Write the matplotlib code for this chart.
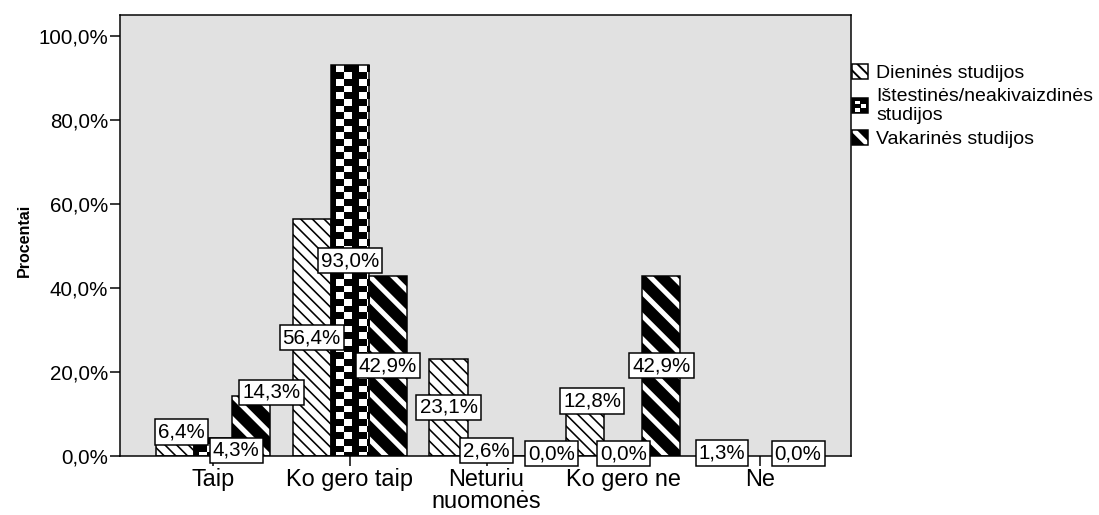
import numpy as np
import matplotlib.pyplot as plt
from matplotlib.patches import Rectangle

plt.rcParams['font.family'] = ['Liberation Sans', 'DejaVu Sans']

# data
categories = ['Taip', 'Ko gero taip', 'Neturiu\nnuomonės', 'Ko gero ne', 'Ne']
series = ['Dieninės studijos', 'Ištestinės/neakivaizdinės\nstudijos', 'Vakarinės studijos']
dieni = [6.4, 56.4, 23.1, 12.8, 1.3]
istest = [4.3, 93.0, 2.6, 0.0, np.nan]
vakar = [14.3, 42.9, 0.0, 42.9, 0.0]
y_ticks = [0, 20, 40, 60, 80, 100]

DPI = 140


def pt(px):
    # pixels -> points at this dpi
    return px * 72 / DPI


fig = plt.figure(figsize=(1099 / DPI, 515 / DPI), dpi=DPI)
ax = fig.add_axes([120 / 1099, 1 - 456 / 515, 731 / 1099, 441 / 515])
ax.set_facecolor('#e1e1e1')

x = np.arange(len(categories))
w = 0.278
xlim = (-0.68, 4.665)
ylim = (0, 105)
ax.set_xlim(xlim)
ax.set_ylim(ylim)
lw = pt(1.5)

b_d = ax.bar(x - w, dieni, w, facecolor='white', edgecolor='black',
             hatch='\\\\\\\\', linewidth=lw, zorder=2)
b_i = ax.bar(x, istest, w, facecolor='black', edgecolor='black', linewidth=0, zorder=2)
b_v = ax.bar(x + w, vakar, w, facecolor='black', edgecolor='white',
             hatch='\\\\', linewidth=0, zorder=2)
for p in b_d:
    if hasattr(p, 'set_hatch_linewidth'):
        p.set_hatch_linewidth(pt(1.6))
for p in b_v:
    if hasattr(p, 'set_hatch_linewidth'):
        p.set_hatch_linewidth(pt(5))

# checker texture for the middle series
pxx = 731 / (xlim[1] - xlim[0])
pxy = 441 / (ylim[1] - ylim[0])
for rect in b_i:
    h = rect.get_height()
    if not h > 0:
        continue
    pw = int(round(rect.get_width() * pxx))
    ph = int(round(h * pxy))
    xx, yy = np.meshgrid(np.arange(pw), np.arange(ph))
    col = np.floor((xx - 5) / 7.33).astype(int) % 3
    row = np.floor(yy / 6.67).astype(int) % 2
    white = ((col == 0) & (row == 0)) | ((col == 1) & (row == 1))
    im = ax.imshow(white.astype(float), cmap='gray', vmin=0, vmax=1,
                   extent=(rect.get_x(), rect.get_x() + rect.get_width(), 0, h),
                   aspect='auto', interpolation='nearest', origin='upper', zorder=3)
    im.set_clip_path(rect)

# outlines on top
ax.bar(x, istest, w, fill=False, edgecolor='black', linewidth=lw, zorder=4)
ax.bar(x + w, vakar, w, fill=False, edgecolor='black', linewidth=lw, zorder=4)
ax.set_xlim(xlim)
ax.set_ylim(ylim)

# value labels (SPSS moves a few of them to avoid overlaps)
label_nudge = {(0, 0): (0.05, 5.7), (1, 0): (0.17, 1.4), (2, 0): (0.15, 15.2),
               (2, 2): (0.2, 0.5), (0, 3): (0.05, 13.1), (1, 3): (0, 0.5),
               (0, 4): (0, 0.7), (2, 4): (0, 0.5)}
for s, (vals, off) in enumerate(zip([dieni, istest, vakar], [-w, 0, w])):
    for c, v in enumerate(vals):
        if np.isnan(v):
            continue
        dx, ty = label_nudge.get((s, c), (0, max(v / 2, 0.5)))
        ax.text(x[c] + off + dx, ty, f'{v:.1f}%'.replace('.', ','),
                ha='center', va='center', fontsize=pt(20.5), zorder=6, clip_on=False,
                bbox=dict(boxstyle='square,pad=0.15', fc='white', ec='black', lw=lw))

ax.set_yticks(y_ticks, [f'{t:.1f}%'.replace('.', ',') for t in y_ticks])
ax.set_xticks(x, categories)
ax.tick_params(direction='out', length=pt(10), width=lw, color='black', pad=pt(2))
ax.tick_params(axis='x', labelsize=pt(23.5))
ax.tick_params(axis='y', labelsize=pt(20.5))
for lbl in ax.get_xticklabels():
    lbl.set_linespacing(0.95)
for sp in ax.spines.values():
    sp.set_linewidth(lw)
    sp.set_zorder(5)

ax.set_ylabel('Procentai', fontsize=pt(16), fontweight='bold')
ax.yaxis.set_label_coords(-0.12, 0.49)


class Swatch:
    def __init__(self, kind):
        self.kind = kind

    def legend_artist(self, legend, orig_handle, fontsize, handlebox):
        x0, y0 = -handlebox.xdescent, -handlebox.ydescent
        hw, hh = handlebox.width, handlebox.height
        tr = handlebox.get_transform()
        if self.kind == 'd':
            base = Rectangle((x0, y0), hw, hh, fc='white', ec='black', hatch='\\\\\\\\',
                             lw=lw, transform=tr)
            handlebox.add_artist(base)
            return base
        if self.kind == 'v':
            base = Rectangle((x0, y0), hw, hh, fc='black', ec='white', hatch='\\\\',
                             lw=0, transform=tr)
            if hasattr(base, 'set_hatch_linewidth'):
                base.set_hatch_linewidth(pt(5))
            handlebox.add_artist(base)
        else:
            base = Rectangle((x0, y0), hw, hh, fc='black', ec='black', lw=0, transform=tr)
            handlebox.add_artist(base)
            for fx, fy in [(0.2, 0.6), (0.2, 0.1), (0.55, 0.35)]:
                handlebox.add_artist(Rectangle((x0 + fx * hw, y0 + fy * hh), 0.3 * hw, 0.25 * hh,
                                               fc='white', ec='none', transform=tr))
        handlebox.add_artist(Rectangle((x0, y0), hw, hh, fill=False, ec='black', lw=lw,
                                       transform=tr))
        return base


handles = [Rectangle((0, 0), 1, 1) for _ in series]
hmap = {handles[0]: Swatch('d'), handles[1]: Swatch('i'), handles[2]: Swatch('v')}
fs = 19.5
ax.legend(handles, series, handler_map=hmap, loc='upper left',
          bbox_to_anchor=(852 / 1099, 1 - 64 / 515), bbox_transform=fig.transFigure,
          frameon=False, fontsize=pt(fs), handlelength=16 / fs, handleheight=16 / fs,
          handletextpad=8 / fs, borderpad=0, borderaxespad=0, labelspacing=0.28)

fig.savefig('out.png', dpi=DPI)
